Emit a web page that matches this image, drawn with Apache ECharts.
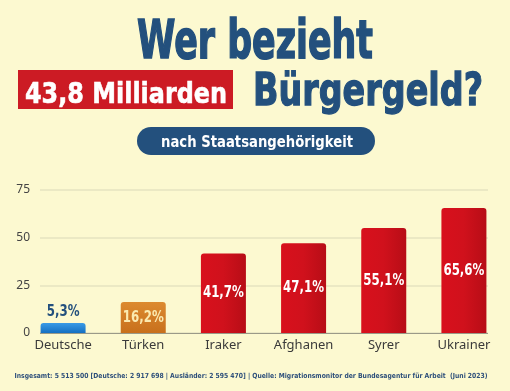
<!DOCTYPE html>
<html><head><meta charset="utf-8">
<script src="https://cdn.jsdelivr.net/npm/echarts@6/dist/echarts.min.js"></script>
<style>html,body{margin:0;padding:0;background:#fcf9d0;}#c{width:510px;height:391px;}</style>
</head><body><div id="c"></div>
<script>
const categories = ['Deutsche', 'Türken', 'Iraker', 'Afghanen', 'Syrer', 'Ukrainer'];
const values = [5.3, 16.2, 41.7, 47.1, 55.1, 65.6];
const valueLabels = ['5,3%', '16,2%', '41,7%', '47,1%', '55,1%', '65,6%'];
const yTicks = [0, 25, 50, 75];

const FAM = '"DejaVu Sans",sans-serif';
const BLUE = '#23507d';

const mctx = document.createElement('canvas').getContext('2d');
function fit(text, font, target) {
  mctx.font = font;
  return target / mctx.measureText(text).width;
}
// x: centre, baseline: desired text baseline, target: desired width
function fitText(text, size, x, baseline, target, fill, stroke) {
  const font = 'bold ' + size + 'px ' + FAM;
  const style = {text: text, font: font, fill: fill, align: 'center', verticalAlign: 'top'};
  if (stroke) { style.stroke = fill; style.lineWidth = stroke; }
  return {type: 'text', x: x, y: baseline - 0.735 * size, scaleX: fit(text, font, target), style: style};
}

function barColor(i) {
  if (i === 0) return new echarts.graphic.LinearGradient(0,0,0,1,[{offset:0,color:'#3a9be6'},{offset:1,color:'#1570c2'}]);
  if (i === 1) return new echarts.graphic.LinearGradient(0,0,0,1,[{offset:0,color:'#dc8a30'},{offset:1,color:'#c8701c'}]);
  return new echarts.graphic.LinearGradient(0,0,1,0,[{offset:0,color:'#d8101c'},{offset:0.5,color:'#d0111c'},{offset:1,color:'#b70d16'}]);
}

const footer = 'Insgesamt: 5 513 500 [Deutsche: 2 917 698 | Ausländer: 2 595 470] | Quelle: Migrationsmonitor der Bundesagentur für Arbeit  (Juni 2023)';

const LABEL_FONT = 'bold 16px ' + FAM;
const LABEL_SCALE = fit('41,7%', LABEL_FONT, 41);

const chart = echarts.init(document.getElementById('c'));
chart.setOption({
  backgroundColor: '#fcf9d0',
  animation: false,
  grid: [
    {left: 40, right: 22, top: 190, bottom: 58},
    {left: 23, right: 6, top: 190, bottom: 58}
  ],
  xAxis: [
    {gridIndex: 0, type: 'category', data: categories, show: false},
    {gridIndex: 1, type: 'category', data: categories,
     axisLine: {show: false}, axisTick: {show: false},
     axisLabel: {color: '#3a3a3a', fontSize: 13, fontFamily: '"Noto Sans",sans-serif', margin: 6}}
  ],
  yAxis: [
    {gridIndex: 0, type: 'value', min: 0, max: 75, interval: 25,
     axisLine: {show: false},
     axisTick: {show: false},
     splitLine: {show: true, lineStyle: {color: '#e6e3c0', width: 1.5}},
     axisLabel: {color: '#444', fontSize: 12, fontFamily: '"Noto Sans",sans-serif', margin: 10,
       formatter: v => yTicks.includes(v) ? String(v) : ''}},
    {gridIndex: 1, type: 'value', min: 0, max: 75, interval: 25, show: false}
  ],
  series: [
    {type: 'line', xAxisIndex: 0, yAxisIndex: 0, data: [], silent: true,
     markLine: {silent: true, symbol: 'none', label: {show: false},
       lineStyle: {color: '#9a9a88', type: 'solid', width: 1.2}, data: [{yAxis: 0}]}},
    {type: 'bar', xAxisIndex: 1, yAxisIndex: 1, barWidth: 45,
     data: values.map((v, i) => ({
       value: v,
       itemStyle: {color: barColor(i), borderRadius: [3,3,0,0]}
     }))},
    {type: 'custom', xAxisIndex: 1, yAxisIndex: 1, silent: true, z: 5,
     data: values.map((v, i) => [i, v]),
     renderItem: function (params, api) {
       const i = api.value(0), v = api.value(1);
       const top = api.coord([i, v]);
       const base = api.coord([i, 0]);
       let y, fill;
       if (i === 0) { y = top[1] - 11.5; fill = BLUE; }
       else { y = (top[1] + base[1]) / 2; fill = i === 1 ? '#fbeab0' : '#ffffff'; }
       return {type: 'text', x: top[0], y: y, scaleX: LABEL_SCALE,
         style: {text: valueLabels[i], font: LABEL_FONT, fill: fill, align: 'center', verticalAlign: 'middle'}};
     }}
  ],
  graphic: [
    fitText('Wer bezieht', 53, 255, 57, 236, BLUE, 1.6),
    {type: 'rect', shape: {x: 18, y: 70, width: 215, height: 39}, style: {fill: '#cc1b24'}},
    fitText('43,8 Milliarden', 28, 126, 102, 202, '#fff', 0.6),
    fitText('Bürgergeld?', 44, 368, 104, 230, BLUE, 1.3),
    {type: 'rect', shape: {x: 137, y: 127, width: 238, height: 28, r: 14}, style: {fill: BLUE}},
    fitText('nach Staatsangehörigkeit', 15, 257, 147, 192, '#fff'),
    fitText(footer, 7, 251, 378, 473, '#2d4f7a')
  ]
});
</script></body></html>
